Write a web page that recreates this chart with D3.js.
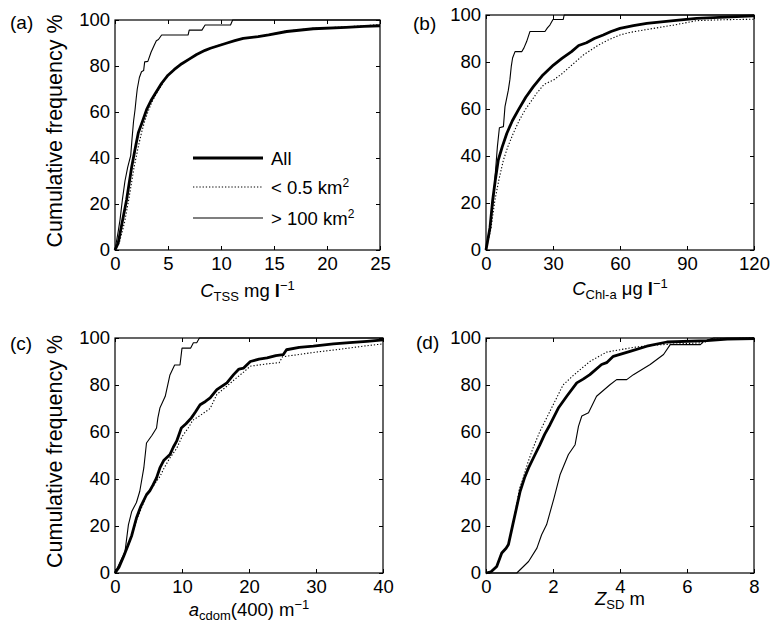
<!DOCTYPE html>
<html>
<head>
<meta charset="utf-8">
<script src="https://cdn.jsdelivr.net/npm/d3@7"></script>
<style>
  body { margin: 0; background: #fff; }
  svg { font-family: "Liberation Sans", Arial, sans-serif; }
  .tick line { stroke: #000; }
  .domain { display: none; }
</style>
</head>
<body>
<div id="chart"></div>
<script>
const width = 775, height = 637;

// ---- data ----
const yTicks = [0, 20, 40, 60, 80, 100];

// (a) total suspended solids
const tssTicks = [0, 5, 10, 15, 20, 25];
const tssAll = [[0,0],[0.3,3],[0.72,13],[1.1,22],[1.57,36],[1.9,44],[2.2,51],[2.6,56],[2.98,61],[3.4,65],[3.8,68],[4.4,72.5],[5.0,76],[5.6,78.5],[6.3,81],[7.0,83],[7.7,85],[8.5,86.8],[9.0,87.7],[10.5,89.9],[11.3,91],[12.1,92],[13.5,92.8],[14.5,93.5],[16.2,95],[18.7,96.2],[21.8,96.8],[23.5,97.2],[25,97.5]];
const tssSmall = [[0,0],[0.4,3],[0.9,12],[1.3,22],[1.8,36],[2.2,45],[2.5,51],[2.8,56],[3.1,60],[3.5,64.5],[3.9,68],[4.5,72.5],[5.0,76],[6.3,81],[7.7,85],[9.0,87.8],[10.5,90],[12.1,92],[14,93.2],[16.2,95.2],[18.7,96.4],[21.8,97],[23.5,97.5],[25,98]];
const tssLarge = [[0,0],[0.3,8],[0.47,13],[0.7,22],[0.94,30],[1.2,36],[1.48,41],[1.6,48],[1.75,56],[1.89,61],[2.0,66],[2.1,70],[2.3,75],[2.5,77.5],[2.7,78],[2.8,81.8],[3.1,82],[3.4,86],[3.7,89],[3.9,91],[4.1,91.5],[4.4,93.5],[6.9,93.5],[7.0,95.6],[8.2,95.6],[8.5,97.8],[10.9,97.8],[11.1,100],[25,100]];

// (b) chlorophyll-a
const chlTicks = [0, 30, 60, 90, 120];
const chlAll = [[0,0],[1.8,9.6],[3.0,21.3],[4.2,30],[5.5,38.3],[7.3,44],[9.3,49.6],[11.8,55],[14.5,59.6],[17.8,65],[21.2,69.5],[25.5,74.5],[30.2,78.7],[34,81.5],[38.3,84.4],[41.5,87],[45,88.2],[48.5,90],[52.5,91.5],[56,93],[60,94.3],[66,95.5],[72,96.4],[84,97.6],[94.3,98.6],[107,99.1],[120,99.6]];
const chlSmall = [[0,0],[2.2,9],[4.0,21.3],[5.8,30],[7.8,38.3],[9.8,44],[12.2,49.6],[14.8,55],[17.5,59.6],[22.7,66.7],[26,70.5],[30.2,72.3],[34,75],[37.6,78],[43.6,83],[50.3,87.2],[55,89.5],[60,91.5],[64,92.5],[70.5,93.6],[84,95.7],[94.3,97.6],[107,98],[120,98.2]];
const chlLarge = [[0,0],[1.5,8],[3.3,21],[4.2,33],[5.1,44],[6.0,52],[7.8,52.5],[8.5,61],[10,68],[10.7,72.5],[11.3,78],[11.9,81.7],[13,84.4],[16,84.4],[17,86],[18.2,88.7],[19.7,93],[26.4,93],[27.5,94.5],[28.6,95.7],[30,98.1],[34.6,98.1],[35,100],[120,100]];

// (c) CDOM absorption
const cdomTicks = [0, 10, 20, 30, 40];
const cdomAll = [[0,0],[0.6,2.5],[1.3,7.1],[1.9,11.5],[2.5,16],[3.2,23.4],[3.8,28],[4.7,33.3],[5.2,35],[5.7,37.6],[6.2,40.5],[6.7,44.7],[7.3,48],[8.2,50.4],[8.7,53.5],[9.2,56.1],[9.9,61.7],[10.6,63.5],[11.4,66],[12.0,68.5],[12.7,71.6],[13.5,73],[14.2,74.5],[15.2,78],[16.7,80.9],[17.7,84.4],[18.5,86.8],[19.2,87.2],[20.2,90],[21.5,91],[22.7,91.5],[24.0,92.5],[25.1,92.9],[25.6,95],[27.5,96],[29.6,96.5],[32.6,97.5],[35,98],[37.6,98.6],[40,99.2]];
const cdomSmall = [[0,0],[0.6,2.5],[1.3,7],[2.5,15.5],[3.2,22.5],[4.7,33],[5.7,37],[6.7,41],[7.3,44.5],[8.2,49],[9.2,53],[10,58],[11,62],[11.6,65],[12.7,67],[14.2,70],[15.2,76],[16.7,79.5],[17.7,82],[19.2,85.5],[20.2,88],[22.7,89],[24.5,89.5],[25,92],[27.5,93],[30,94],[33,95],[37,96.5],[40,97.5]];
const cdomLarge = [[0,0],[1.5,9.2],[2.0,20.5],[2.5,26.2],[3.2,30],[3.7,34.8],[4.3,44.7],[4.7,55.3],[5.5,58.5],[6.2,61.7],[6.4,66],[6.7,70.2],[7.5,75.2],[8.2,84.3],[8.9,88.5],[9.7,88.5],[10.0,95.7],[11.3,95.7],[11.7,98],[12.2,98],[12.6,100],[40,100]];

// (d) Secchi depth
const sdTicks = [0, 2, 4, 6, 8];
const sdAll = [[0,0],[0.15,0.5],[0.32,2.8],[0.47,8.5],[0.6,10.5],[0.67,12.1],[0.8,20.6],[0.9,27],[1.02,34.8],[1.15,40.5],[1.27,44.7],[1.45,50],[1.61,54.6],[1.75,59],[1.91,63.1],[2.16,70.2],[2.41,75.2],[2.71,80.9],[2.9,82.5],[3.1,84.4],[3.45,88.7],[3.6,89.5],[3.8,92.2],[4.3,94.3],[4.8,96.5],[5.4,98.3],[6.6,98.9],[7.2,99.5],[8,99.7]];
const sdSmall = [[0,0],[0.15,0.5],[0.32,2.8],[0.47,8.5],[0.6,10.5],[0.67,12.1],[0.8,20.6],[0.9,28],[1.0,36],[1.1,40],[1.25,47],[1.4,53],[1.6,60],[1.95,70],[2.3,80],[2.6,84],[3.1,90],[3.6,94],[4.4,96],[5.0,97],[6.5,98],[6.7,99.5],[8,100]];
const sdLarge = [[0,0],[0.92,0],[1.27,4.9],[1.52,10.6],[1.66,16.3],[1.81,20.6],[2.03,31.9],[2.21,41.8],[2.46,50.4],[2.66,54.6],[2.76,62.4],[2.86,66.8],[3.06,68.2],[3.3,75.2],[3.7,80.1],[3.9,82.3],[4.2,82.3],[4.4,84.4],[4.9,88.7],[5.3,93],[5.5,97.2],[6.4,97.2],[6.5,98.6],[6.8,100],[8,100]];

const legendLabels = ["All", "< 0.5 km", "> 100 km"];

// ---- layout ----
const panels = [
  { tag: "(a)", tagX: 10, tagY: 29, left: 115, right: 380, top: 20, bottom: 250,
    ticks: tssTicks, series: [tssAll, tssSmall, tssLarge], yTitle: true, titleY: 297, title: "tss", legend: true },
  { tag: "(b)", tagX: 413, tagY: 30, left: 486, right: 754, top: 15, bottom: 250,
    ticks: chlTicks, series: [chlAll, chlSmall, chlLarge], yTitle: false, titleY: 295, title: "chl" },
  { tag: "(c)", tagX: 10, tagY: 350, left: 115, right: 383, top: 338, bottom: 573,
    ticks: cdomTicks, series: [cdomAll, cdomSmall, cdomLarge], yTitle: true, titleY: 616, title: "cdom" },
  { tag: "(d)", tagX: 416, tagY: 349, left: 486, right: 754, top: 338, bottom: 573,
    ticks: sdTicks, series: [sdAll, sdSmall, sdLarge], yTitle: false, titleY: 605, title: "sd" }
];

const styles = [
  { width: 2.8, dash: null },
  { width: 1.1, dash: "1.3,1.9" },
  { width: 1.1, dash: null }
];

const fs = 18.5;
const svg = d3.select("#chart").append("svg")
  .attr("width", width).attr("height", height);

panels.forEach(p => {
  const x = d3.scaleLinear().domain([p.ticks[0], p.ticks[p.ticks.length - 1]]).range([p.left, p.right]);
  const y = d3.scaleLinear().domain([0, 100]).range([p.bottom, p.top]);
  const g = svg.append("g");

  // inward ticks on all four sides
  const tk = 4;
  g.append("g").attr("transform", `translate(0,${p.bottom})`)
    .call(d3.axisBottom(x).tickValues(p.ticks).tickSize(-tk).tickPadding(7).tickFormat(d3.format("d")))
    .call(a => a.selectAll("text").attr("font-size", fs).attr("fill", "#000").attr("font-family", null));
  g.append("g").attr("transform", `translate(0,${p.top})`)
    .call(d3.axisTop(x).tickValues(p.ticks).tickSize(-tk).tickFormat(""));
  g.append("g").attr("transform", `translate(${p.left},0)`)
    .call(d3.axisLeft(y).tickValues(yTicks).tickSize(-tk).tickPadding(5))
    .call(a => a.selectAll("text").attr("font-size", fs).attr("fill", "#000").attr("font-family", null));
  g.append("g").attr("transform", `translate(${p.right},0)`)
    .call(d3.axisRight(y).tickValues(yTicks).tickSize(-tk).tickFormat(""));

  const line = d3.line().x(d => x(d[0])).y(d => y(d[1]));
  // draw thin ones first, thick on top
  [2, 1, 0].forEach(i => {
    g.append("path").datum(p.series[i])
      .attr("d", line)
      .attr("fill", "none").attr("stroke", "#000")
      .attr("stroke-width", styles[i].width)
      .attr("stroke-dasharray", styles[i].dash)
      .attr("stroke-linejoin", "round");
  });

  g.append("rect")
    .attr("x", p.left).attr("y", p.top)
    .attr("width", p.right - p.left).attr("height", p.bottom - p.top)
    .attr("fill", "none").attr("stroke", "#000").attr("stroke-width", 1.2);

  g.append("text").attr("x", p.tagX).attr("y", p.tagY)
    .attr("font-size", 19).text(p.tag);

  if (p.yTitle) {
    g.append("text")
      .attr("transform", `translate(62,${(p.top + p.bottom) / 2 - 4}) rotate(-90)`)
      .attr("text-anchor", "middle").attr("font-size", 21.5)
      .text("Cumulative frequency %");
  }

  // x axis title
  const t = g.append("text").attr("x", (p.left + p.right) / 2).attr("y", p.titleY)
    .attr("text-anchor", "middle").attr("font-size", fs);
  if (p.title === "tss") {
    t.append("tspan").attr("font-style", "italic").text("C");
    t.append("tspan").attr("font-size", 13).attr("dy", 4).text("TSS");
    t.append("tspan").attr("dy", -4).text(" mg ");
    t.append("tspan").attr("font-weight", "bold").text("l");
    t.append("tspan").attr("font-size", 13).attr("dy", -7).text("−1");
  } else if (p.title === "chl") {
    t.append("tspan").attr("font-style", "italic").text("C");
    t.append("tspan").attr("font-size", 13).attr("dy", 4).text("Chl-a");
    t.append("tspan").attr("dy", -4).text(" μg ");
    t.append("tspan").attr("font-weight", "bold").text("l");
    t.append("tspan").attr("font-size", 13).attr("dy", -7).text("−1");
  } else if (p.title === "cdom") {
    t.append("tspan").attr("font-style", "italic").text("a");
    t.append("tspan").attr("font-size", 13).attr("dy", 4).text("cdom");
    t.append("tspan").attr("dy", -4).text("(400) m");
    t.append("tspan").attr("font-size", 13).attr("dy", -7).text("−1");
  } else {
    t.append("tspan").attr("font-style", "italic").text("Z");
    t.append("tspan").attr("font-size", 13).attr("dy", 4).text("SD");
    t.append("tspan").attr("dy", -4).text(" m");
  }

  if (p.legend) {
    const ly = [158, 187, 218];
    legendLabels.forEach((lab, i) => {
      g.append("line").attr("x1", 193).attr("x2", 263).attr("y1", ly[i]).attr("y2", ly[i])
        .attr("stroke", "#000").attr("stroke-width", styles[i].width)
        .attr("stroke-dasharray", styles[i].dash);
      const lt = g.append("text").attr("x", 271).attr("y", ly[i] + 6.5).attr("font-size", fs);
      lt.append("tspan").text(lab);
      if (i > 0) lt.append("tspan").attr("font-size", 12).attr("dy", -7).text("2");
    });
  }
});
</script>
</body>
</html>
